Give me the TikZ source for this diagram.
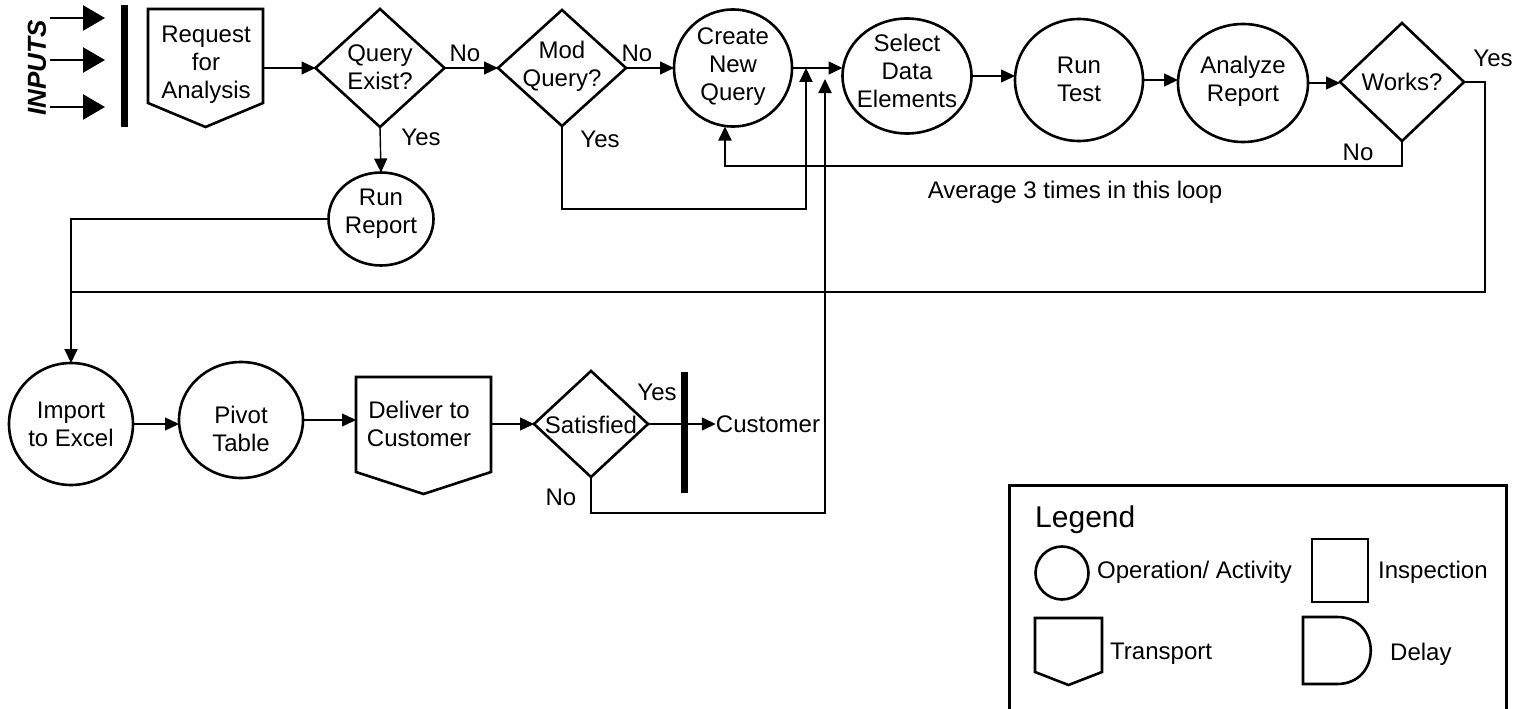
\documentclass[tikz,border=0pt]{standalone}
\usepackage{fontspec}
\setmainfont{Liberation Sans}
\usetikzlibrary{arrows.meta,shapes.geometric,calc}
\begin{document}
\begin{tikzpicture}[x=1pt,y=-1pt,
  shp/.style={draw, line width=2.6pt, inner sep=0pt, outer sep=0pt},
  opn/.style={shp, ellipse},
  dia/.style={shp, diamond},
  helper/.style={inner sep=0pt, outer sep=0pt, rectangle},
  txt/.style={font=\fontsize{24}{28}\selectfont, align=center, inner sep=0pt},
  lbl/.style={font=\fontsize{24}{28}\selectfont, inner sep=0pt},
  conn/.style={line width=1.4pt, -{Triangle[length=14pt,width=13pt]}},
  loopline/.style={line width=2pt},
  tip/.style={-{Triangle[length=14pt,width=13pt]}},
  bar/.style={line width=7pt},
  inarr/.style={line width=2.5pt, -{Triangle[length=22pt,width=25pt]}},
]
\clip (0,0) rectangle (1521,709);

% ---------- inputs ----------
\node[font=\fontsize{26}{30}\selectfont\bfseries\itshape, rotate=90, inner sep=0pt] (inputs) at (37,68) {INPUTS};
\coordinate (i1s) at (50,18);  \coordinate (i1e) at (105,18);
\coordinate (i2s) at (50,60);  \coordinate (i2e) at (105,60);
\coordinate (i3s) at (50,107); \coordinate (i3e) at (105,107);
\draw[inarr] (i1s) -- (i1e);
\draw[inarr] (i2s) -- (i2e);
\draw[inarr] (i3s) -- (i3e);
\coordinate (b1t) at (124,5); \coordinate (b1b) at (124,127);
\draw[bar] (b1t) -- (b1b);

% ---------- top row ----------
\node[helper, minimum width=115, minimum height=94] (req) at (205.5,56) {};
\draw[shp] (req.north west) -- (req.north east) -- (req.south east) -- ($(req.south)+(0,24)$) -- (req.south west) -- cycle;
\node[txt] (reqT) at (206,65) {Request\\for\\Analysis};

\node[dia, minimum width=129, minimum height=118] (q1) at (380,68) {};
\node[txt] (q1T) at (380,67) {Query\\Exist?};

\node[dia, minimum width=128, minimum height=116] (q2) at (562,68) {};
\node[txt] (q2T) at (562,66) {Mod\\Query?};

\node[opn, minimum width=118, minimum height=117] (create) at (733,68) {};
\node[txt] (createT) at (733,67) {Create\\New\\Query};

\node[opn, minimum width=129, minimum height=115] (select) at (907,76) {};
\node[txt] (selectT) at (907,71) {Select\\Data\\Elements};

\node[opn, minimum width=128, minimum height=122] (runtest) at (1079,80) {};
\node[txt] (runtestT) at (1079,79) {Run\\Test};

\node[opn, minimum width=130, minimum height=118] (analyze) at (1243,83) {};
\node[txt] (analyzeT) at (1243,81) {Analyze\\Report};

\node[dia, minimum width=124, minimum height=118] (works) at (1402,82) {};
\node[txt] (worksT) at (1402,82) {Works?};

\draw[conn] (req.east |- q1.west) -- (q1.west);
\draw[conn] (q1.east) -- (q2.west);
\draw[conn] (q2.east) -- (create.west);
\draw[conn] (create.east) -- (create.east -| select.west);
\draw[conn] (select.east) -- (select.east -| runtest.west);
\draw[conn] (runtest.east) -- (runtest.east -| analyze.west);
\draw[conn] (analyze.east) -- (analyze.east -| works.west);

\node[lbl] (no1) at (465,53) {No};
\node[lbl] (no2) at (637,53) {No};
\node[lbl] (yes1) at (421,137) {Yes};
\node[lbl] (yes2) at (600,139) {Yes};
\node[lbl] (yes3) at (1493,58) {Yes};
\node[lbl] (no3) at (1358,152) {No};
\node[lbl] (avg) at (1075,192) {Average 3 times in this loop};

% Run Report
\node[opn, minimum width=105, minimum height=93] (runrep) at (381,219) {};
\node[txt] (runrepT) at (381,214) {Run\\Report};
\draw[conn] (q1.south) -- (runrep.north);

% Mod Query? Yes loop
\coordinate (myB) at (806,209);
\draw[loopline,tip] (q2.south) -- (q2.south |- myB) -- (myB) -- (myB |- create.east);

% Works? No loop
\coordinate (cnB) at (725,166);
\draw[loopline,tip] (works.south) -- (works.south |- cnB) -- (cnB) -- (cnB |- create.south);

% Works? Yes
\coordinate (wyR) at (1485,292);
\coordinate (wyL) at (70,292);
\draw[loopline] (works.east) -- (works.east -| wyR) -- (wyR) -- (wyL);

% ---------- bottom row ----------
\node[opn, minimum width=124, minimum height=122] (imp) at (71,424) {};
\node[txt] (impT) at (71,424) {Import\\to Excel};
\draw[loopline,tip] (runrep.west) -- (runrep.west -| imp.north) -- (imp.north);

\node[opn, minimum width=124, minimum height=116] (pivot) at (241,420) {};
\node[txt] (pivotT) at (241,429) {Pivot\\Table};

\node[helper, minimum width=135, minimum height=95] (del) at (423.5,424.5) {};
\draw[shp] (del.north west) -- (del.north east) -- (del.south east) -- ($(del.south)+(0,22)$) -- (del.south west) -- cycle;
\node[txt] (delT) at (419,424) {Deliver to\\Customer};

\node[dia, minimum width=114, minimum height=106] (sat) at (591,424) {};
\node[txt] (satT) at (591,425) {Satisfied};

\node[lbl] (cust) at (768,424) {Customer};
\coordinate (b2t) at (684,372); \coordinate (b2b) at (684,493);

\draw[conn] (imp.east) -- (imp.east -| pivot.west);
\draw[conn] (pivot.east) -- (pivot.east -| del.west);
\draw[conn] (del.east |- sat.west) -- (sat.west);
\draw[conn] (sat.east) -- (cust.west);
\draw[bar] (b2t) -- (b2b);

\node[lbl] (yes5) at (657,392) {Yes};
\node[lbl] (no5) at (561,497) {No};

\coordinate (snB) at (825,513);
\coordinate (snT) at (825,79);
\draw[loopline,tip] (sat.south) -- (sat.south |- snB) -- (snB) -- (snT);

% ---------- legend ----------
\coordinate (lgA) at (1009,485);
\coordinate (lgB) at (1506,730);
\draw[line width=3pt] (lgA) rectangle (lgB);
\node[font=\fontsize{30}{34}\selectfont, anchor=base west, inner sep=0pt] (legT) at (1035,527) {Legend};

\node[shp, circle, minimum size=53] (lgC) at (1062,573) {};
\node[lbl, anchor=west] (lgCT) at (1097,572) {Operation/ Activity};

\node[shp, rectangle, minimum width=56, minimum height=63] (lgSq) at (1340,570.5) {};
\node[lbl, anchor=west] (lgSqT) at (1378,572) {Inspection};

\node[helper, minimum width=67, minimum height=54] (lgTr) at (1068.5,645) {};
\draw[shp] (lgTr.north west) -- (lgTr.north east) -- (lgTr.south east) -- ($(lgTr.south)+(0,13)$) -- (lgTr.south west) -- cycle;
\node[lbl, anchor=west] (lgTrT) at (1110,654) {Transport};

\coordinate (dl1) at (1303,617);
\coordinate (dl2) at (1337,617);
\coordinate (dl3) at (1337,684);
\coordinate (dl4) at (1303,684);
\draw[shp] (dl1) -- (dl2) .. controls (1382,617) and (1382,684) .. (dl3) -- (dl4) -- cycle;
\node[lbl, anchor=west] (lgDT) at (1390,654) {Delay};
\end{tikzpicture}
\end{document}
